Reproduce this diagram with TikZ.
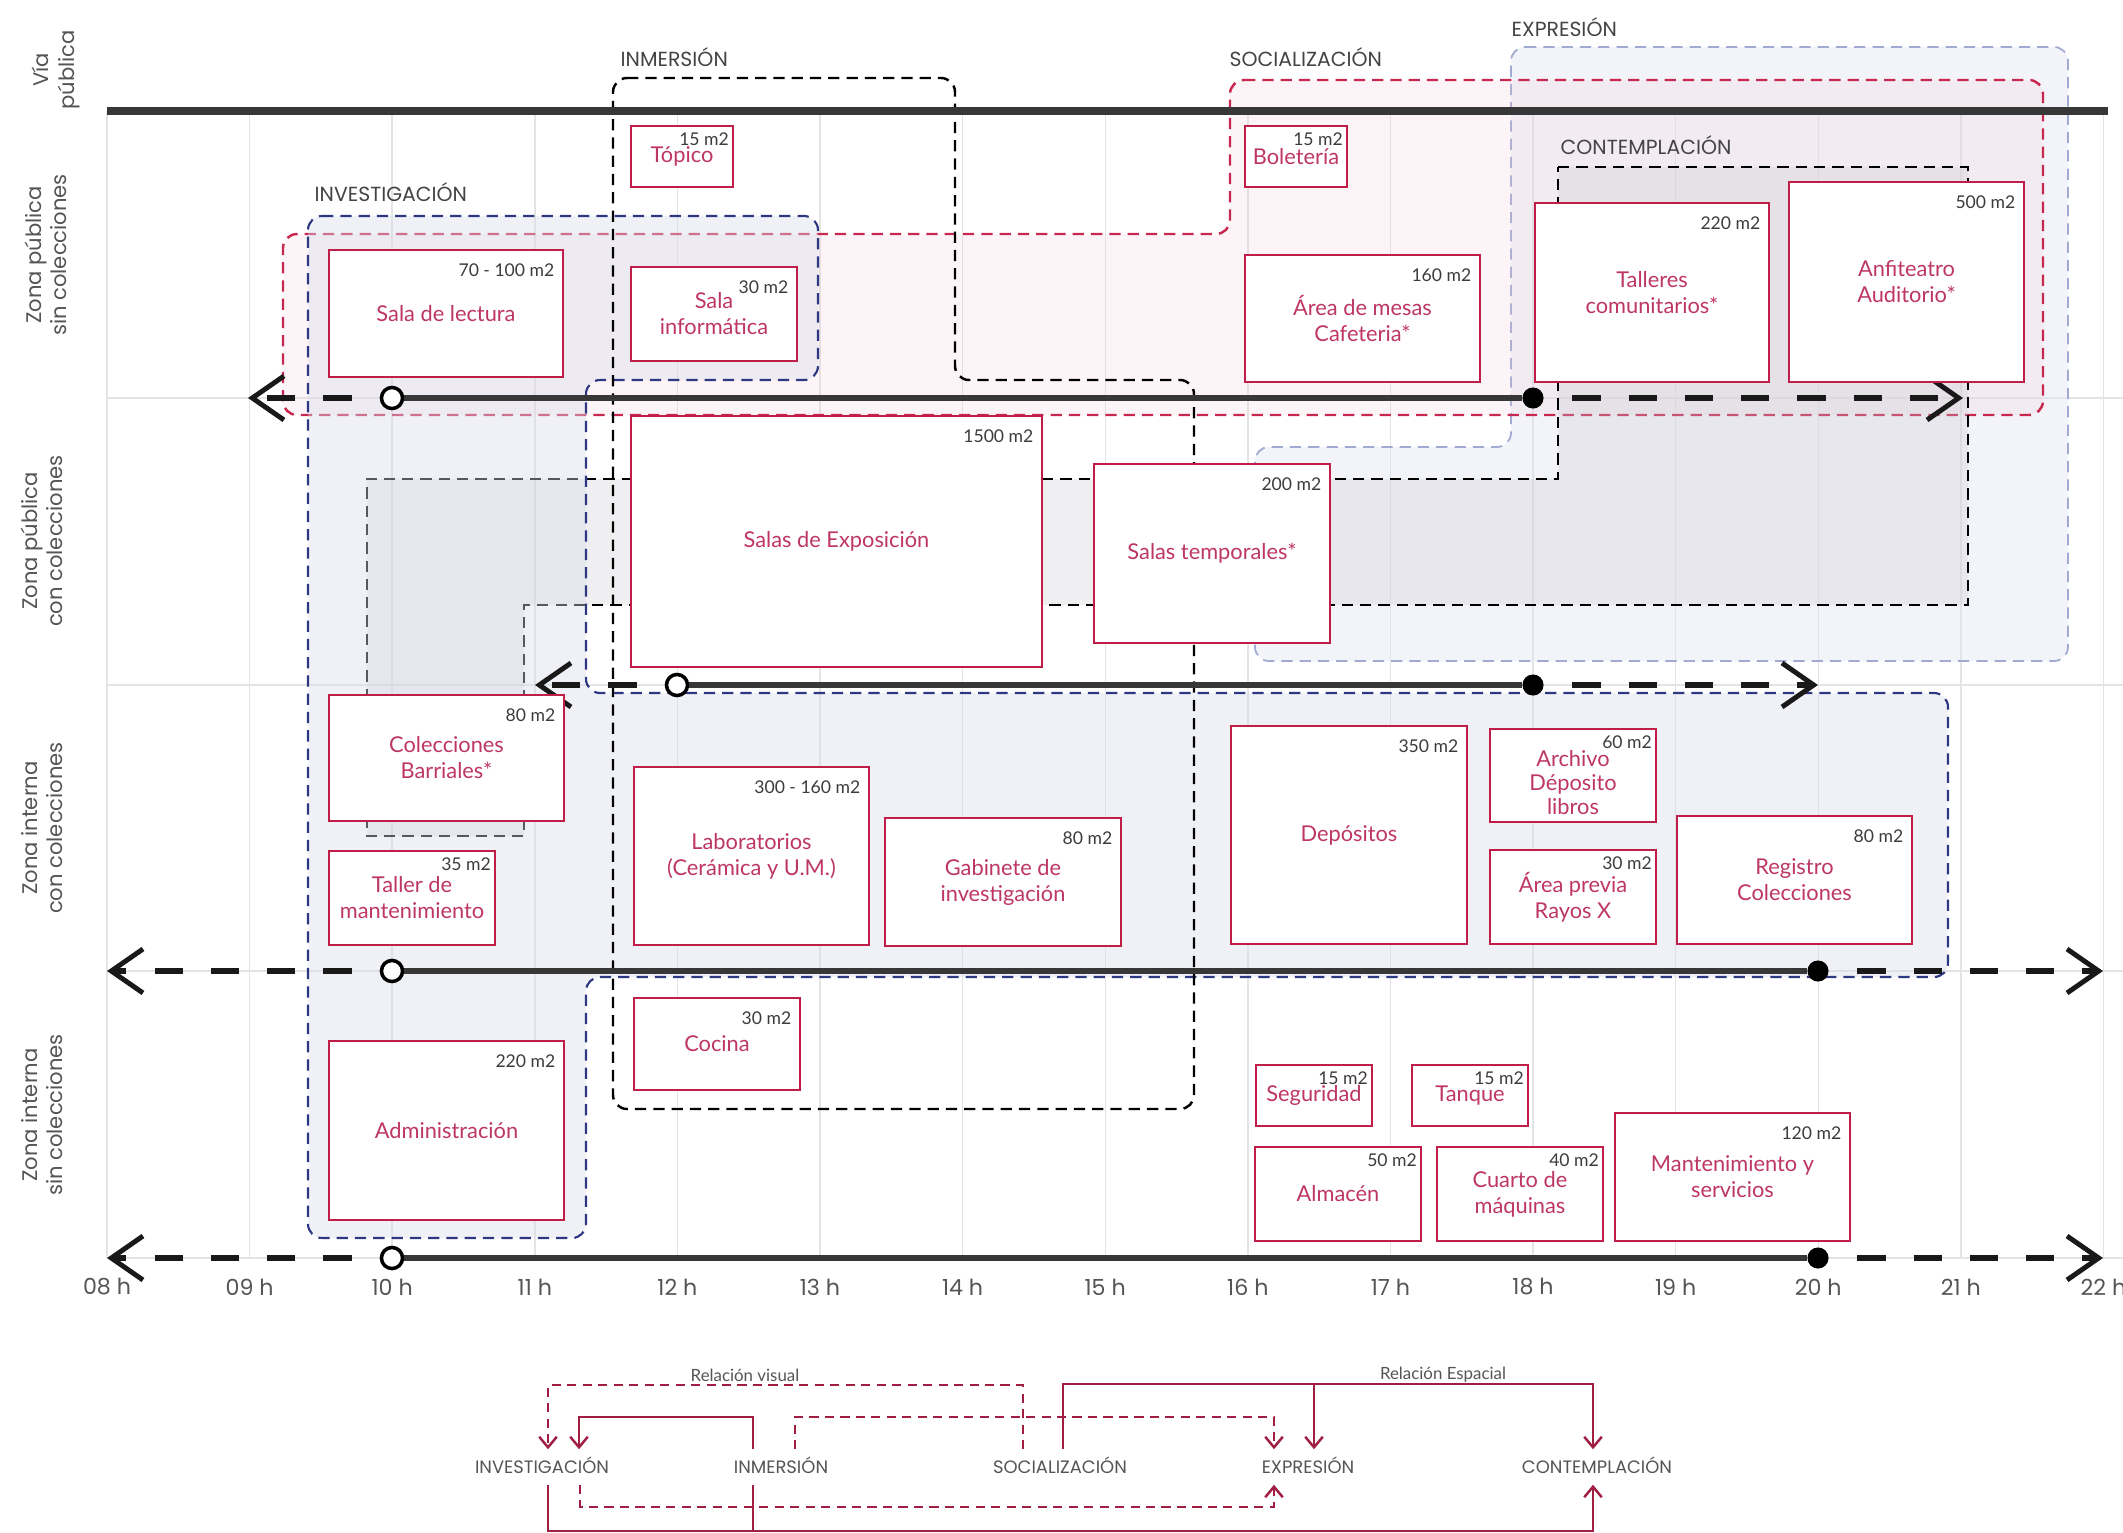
\documentclass[tikz,border=0pt]{standalone}
\usepackage{fontspec}
\setmainfont{Lato}
\newfontfamily\geofont{Poppins}
\usetikzlibrary{arrows.meta,calc}

\definecolor{roomred}{RGB}{190,30,72}
\definecolor{roomtext}{RGB}{190,55,98}
\definecolor{areagrey}{RGB}{60,60,60}
\definecolor{labgrey}{RGB}{85,85,85}
\definecolor{linegrey}{RGB}{55,55,55}
\definecolor{gridgrey}{RGB}{228,228,228}
\definecolor{invblue}{RGB}{45,55,130}
\definecolor{expblue}{RGB}{160,170,210}
\definecolor{socred}{RGB}{200,40,80}
\definecolor{legred}{RGB}{160,30,65}
\definecolor{invfill}{RGB}{215,221,235}
\definecolor{expfill}{RGB}{225,229,242}
\definecolor{socfill}{RGB}{240,200,212}
\definecolor{confill}{RGB}{200,200,206}

\tikzset{
  room/.style={draw=roomred, line width=0.7pt, fill=white, inner sep=0pt, outer sep=0pt,
    align=center, text=roomtext, font=\fontsize{6.2}{7.4}\selectfont},
  areabase/.style={anchor=north east, inner sep=1.8pt, text=areagrey, font=\fontsize{5}{6}\selectfont},
  area/.style={areabase, xshift=-0.5pt, yshift=-2pt},
  areasmall/.style={areabase, xshift=0.8pt},
  zone/.style={rotate=90, align=center, text=labgrey, font=\geofont\fontsize{6}{7.2}\selectfont},
  group/.style={anchor=west, inner sep=0pt, text=labgrey!80!black, font=\geofont\fontsize{5.8}{7}\selectfont},
  hour/.style={text=labgrey, font=\geofont\fontsize{6.3}{7}\selectfont},
  gridline/.style={draw=gridgrey, line width=0.4pt},
  vialine/.style={draw=linegrey, line width=2pt},
  tlsolid/.style={draw=linegrey, line width=1.8pt},
  tldash/.style={draw=black!90, line width=1.8pt, dash pattern=on 8pt off 8pt, dash phase=8pt,
    -{Straight Barb[length=9pt,width=12.5pt,line width=1.4pt]}},
  opendot/.style={circle, draw=black, line width=1pt, fill=white, minimum size=6pt, inner sep=0pt},
  fulldot/.style={circle, fill=black, minimum size=6pt, inner sep=0pt},
  groupline/.style={line width=0.7pt, dash pattern=on 3.2pt off 2pt, rounded corners=4pt},
  expgroup/.style={groupline, draw=expblue, line width=0.5pt, fill=expfill, fill opacity=0.4},
  socgroup/.style={groupline, draw=socred, fill=socfill, fill opacity=0.2},
  congroup/.style={groupline, draw=black, rounded corners=0pt, fill=confill, fill opacity=0.28},
  invgroup/.style={groupline, draw=invblue, line width=0.6pt, fill=invfill, fill opacity=0.4},
  inmgroup/.style={groupline, draw=black},
  legend/.style={text height=3.7pt, text depth=0pt, inner xsep=1pt, inner ysep=3pt,
    text=labgrey, font=\geofont\fontsize{5.1}{6}\selectfont},
  reltext/.style={inner sep=0pt, text=labgrey, font=\fontsize{4.8}{6}\selectfont},
  visual/.style={draw=legred, line width=0.7pt, dash pattern=on 2.6pt off 1.8pt},
  spatial/.style={draw=legred, line width=0.7pt},
  legtip/.style={-{Straight Barb[length=3pt,width=5pt]}}
}

\begin{document}
\begin{tikzpicture}[x=0.01cm, y=-0.01cm]

\fill[white] (0,0) rectangle (2123,1533);
\useasboundingbox (0,0) rectangle (2123,1533);

% hour grid
\foreach \i in {0,...,14}
  \draw[gridline] ({107+\i*142.6},111) -- ({107+\i*142.6},1258);
\foreach \y in {398,685,971,1258}
  \draw[gridline] (107,\y) -- (2123,\y);

% groups
\draw[expgroup] (1511,47) -- (2068,47) -- (2068,661) -- (1255,661) -- (1255,447) -- (1511,447) -- cycle;
\draw[socgroup] (1230,80) -- (2043,80) -- (2043,415) -- (283,415) -- (283,234) -- (1230,234) -- cycle;
\draw[congroup] (1558,167) -- (1968,167) -- (1968,605) -- (524,605) -- (524,836) -- (367,836) -- (367,479) -- (1558,479) -- cycle;
\draw[invgroup] (308,216) -- (818,216) -- (818,380) -- (586,380) -- (586,693) -- (1948,693) -- (1948,977)
  -- (586,977) -- (586,1238) -- (308,1238) -- cycle;
\draw[inmgroup] (613,78) -- (955,78) -- (955,380) -- (1194,380) -- (1194,1109) -- (613,1109) -- cycle;

\node (gInm) [group] at (620,57) {INMERSIÓN};
\node (gInv) [group] at (314,192) {INVESTIGACIÓN};
\node (gSoc) [group] at (1229,57) {SOCIALIZACIÓN};
\node (gExp) [group] at (1511,27) {EXPRESIÓN};
\node (gCon) [group] at (1560,145) {CONTEMPLACIÓN};

% via publica
\coordinate (via0) at (107,111);
\coordinate (via1) at (2108,111);
\draw[vialine] (via0) -- (via1);

% timelines
\node (o1) [opendot] at (392,398) {};
\node (f1) [fulldot] at (1533,398) {};
\coordinate (l1) at (248,398);
\coordinate (r1) at (1963,398);
\draw[tlsolid] (o1) -- (f1);
\draw[tldash] (o1) -- (l1);
\draw[tldash] (f1) -- (r1);

\node (o2) [opendot] at (677,685) {};
\node (f2) [fulldot] at (1533,685) {};
\coordinate (l2) at (535,685);
\coordinate (r2) at (1818,685);
\draw[tlsolid] (o2) -- (f2);
\draw[tldash] (o2) -- (l2);
\draw[tldash] (f2) -- (r2);

\node (o3) [opendot] at (392,971) {};
\node (f3) [fulldot] at (1818,971) {};
\coordinate (l3) at (107,971);
\coordinate (r3) at (2103,971);
\draw[tlsolid] (o3) -- (f3);
\draw[tldash] (o3) -- (l3);
\draw[tldash] (f3) -- (r3);

\node (o4) [opendot] at (392,1258) {};
\node (f4) [fulldot] at (1818,1258) {};
\coordinate (l4) at (107,1258);
\coordinate (r4) at (2103,1258);
\draw[tlsolid] (o4) -- (f4);
\draw[tldash] (o4) -- (l4);
\draw[tldash] (f4) -- (r4);

% zona publica sin colecciones
\node (top) [room, minimum width=1.02cm, minimum height=0.61cm] at (682,156.5) {Tópico};
\node (topA) [areasmall] at (top.north east) {15 m2};
\node (lec) [room, minimum width=2.34cm, minimum height=1.27cm] at (446,313.5) {Sala de lectura};
\node (lecA) [area] at (lec.north east) {70 - 100 m2};
\node (inf) [room, minimum width=1.66cm, minimum height=0.94cm] at (714,314) {Sala\\informática};
\node (infA) [area] at (inf.north east) {30 m2};
\node (bol) [room, minimum width=1.02cm, minimum height=0.61cm] at (1296,156.5) {Boletería};
\node (bolA) [areasmall] at (bol.north east) {15 m2};
\node (caf) [room, minimum width=2.35cm, minimum height=1.27cm] at (1362.5,318.5) {Área de mesas\\Cafeteria*};
\node (cafA) [area] at (caf.north east) {160 m2};
\node (tal) [room, minimum width=2.34cm, minimum height=1.79cm] at (1652,292.5) {Talleres\\comunitarios*};
\node (talA) [area] at (tal.north east) {220 m2};
\node (anf) [room, minimum width=2.35cm, minimum height=2.00cm] at (1906.5,282) {Anfiteatro\\Auditorio*};
\node (anfA) [area] at (anf.north east) {500 m2};

% zona publica con colecciones
\node (exp) [room, minimum width=4.11cm, minimum height=2.51cm] at (836.5,541.5) {Salas de Exposición};
\node (expA) [area] at (exp.north east) {1500 m2};
\node (tem) [room, minimum width=2.36cm, minimum height=1.79cm] at (1212,553.5) {Salas temporales*};
\node (temA) [area] at (tem.north east) {200 m2};

% zona interna con colecciones
\node (col) [room, minimum width=2.35cm, minimum height=1.26cm] at (446.5,758) {Colecciones\\Barriales*};
\node (colA) [area] at (col.north east) {80 m2};
\node (tmt) [room, minimum width=1.66cm, minimum height=0.94cm] at (412,898) {Taller de\\mantenimiento};
\node (tmtA) [areasmall] at (tmt.north east) {35 m2};
\node (lab) [room, minimum width=2.35cm, minimum height=1.78cm] at (751.5,856) {Laboratorios\\(Cerámica y U.M.)};
\node (labA) [area] at (lab.north east) {300 - 160 m2};
\node (gab) [room, minimum width=2.36cm, minimum height=1.28cm] at (1003,882) {Gabinete de\\investigación};
\node (gabA) [area] at (gab.north east) {80 m2};
\node (dep) [room, minimum width=2.36cm, minimum height=2.18cm] at (1349,835) {Depósitos};
\node (depA) [area] at (dep.north east) {350 m2};
\node (arc) [room, minimum width=1.66cm, minimum height=0.93cm, font=\fontsize{6.2}{6.8}\selectfont]
  at (1573,775.5) {\rule{0pt}{8.5pt}Archivo\\Déposito\\libros};
\node (arcA) [areasmall] at (arc.north east) {60 m2};
\node (ray) [room, minimum width=1.66cm, minimum height=0.94cm] at (1573,897) {Área previa\\Rayos X};
\node (rayA) [areasmall] at (ray.north east) {30 m2};
\node (reg) [room, minimum width=2.35cm, minimum height=1.28cm] at (1794.5,880) {Registro\\Colecciones};
\node (regA) [area] at (reg.north east) {80 m2};

% zona interna sin colecciones
\node (coc) [room, minimum width=1.66cm, minimum height=0.92cm] at (717,1044) {Cocina};
\node (cocA) [area] at (coc.north east) {30 m2};
\node (adm) [room, minimum width=2.35cm, minimum height=1.79cm] at (446.5,1130.5) {Administración};
\node (admA) [area] at (adm.north east) {220 m2};
\node (seg) [room, minimum width=1.16cm, minimum height=0.61cm] at (1314,1095.5) {Seguridad};
\node (segA) [areasmall] at (seg.north east) {15 m2};
\node (tan) [room, minimum width=1.16cm, minimum height=0.61cm] at (1470,1095.5) {Tanque};
\node (tanA) [areasmall] at (tan.north east) {15 m2};
\node (alm) [room, minimum width=1.66cm, minimum height=0.94cm] at (1338,1194) {Almacén};
\node (almA) [areasmall] at (alm.north east) {50 m2};
\node (maq) [room, minimum width=1.66cm, minimum height=0.94cm] at (1520,1194) {Cuarto de\\máquinas};
\node (maqA) [areasmall] at (maq.north east) {40 m2};
\node (man) [room, minimum width=2.35cm, minimum height=1.28cm] at (1732.5,1177) {Mantenimiento y\\servicios};
\node (manA) [area] at (man.north east) {120 m2};

% zone labels
\node (zvia) [zone] at (56,70) {Vía\\pública};
\node (zps) [zone] at (46,255) {Zona pública\\sin colecciones};
\node (zpc) [zone] at (42,541) {Zona pública\\con colecciones};
\node (zic) [zone] at (42,828) {Zona interna\\con colecciones};
\node (zis) [zone] at (42,1115) {Zona interna\\sin colecciones};

% hours
\foreach \h [count=\i from 0] in {08,09,10,11,12,13,14,15,16,17,18,19,20,21,22}
  \node (h\h) [hour] at ({107+\i*142.6},1287) {\h\ h};

% legend
\node (linv) [legend] at (542,1467) {INVESTIGACIÓN};
\node (linm) [legend] at (781,1467) {INMERSIÓN};
\node (lsoc) [legend] at (1060,1467) {SOCIALIZACIÓN};
\node (lexp) [legend] at (1308,1467) {EXPRESIÓN};
\node (lcon) [legend] at (1597,1467) {CONTEMPLACIÓN};
\node (rvis) [reltext] at (745,1375) {Relación visual};
\node (resp) [reltext] at (1443,1375) {Relación Espacial};

\draw[visual, legtip] ($(lsoc.north)+(-37,0)$) |- ($(linv.north)+(6,-64)$) -- ($(linv.north)+(6,0)$);
\draw[visual, legtip] ($(linm.north)+(14,0)$) |- ($(lexp.north)+(-34,-32)$) -- ($(lexp.north)+(-34,0)$);
\draw[visual, legtip] ($(linv.south)+(38,0)$) |- ($(lexp.south)+(-34,22)$) -- ($(lexp.south)+(-34,0)$);
\draw[spatial, legtip] ($(linm.north)+(-28,0)$) |- ($(linv.north)+(37,-32)$) -- ($(linv.north)+(37,0)$);
\draw[spatial, legtip] ($(lsoc.north)+(3,0)$) |- ($(lcon.north)+(-4,-65)$) -- ($(lcon.north)+(-4,0)$);
\draw[spatial, legtip] ($(lexp.north)+(6,-65)$) -- ($(lexp.north)+(6,0)$);
\draw[spatial, legtip] ($(linv.south)+(6,0)$) |- ($(lcon.south)+(-4,46)$) -- ($(lcon.south)+(-4,0)$);
\draw[spatial] ($(linm.south)+(-28,0)$) -- ($(linm.south)+(-28,46)$);

\end{tikzpicture}
\end{document}
